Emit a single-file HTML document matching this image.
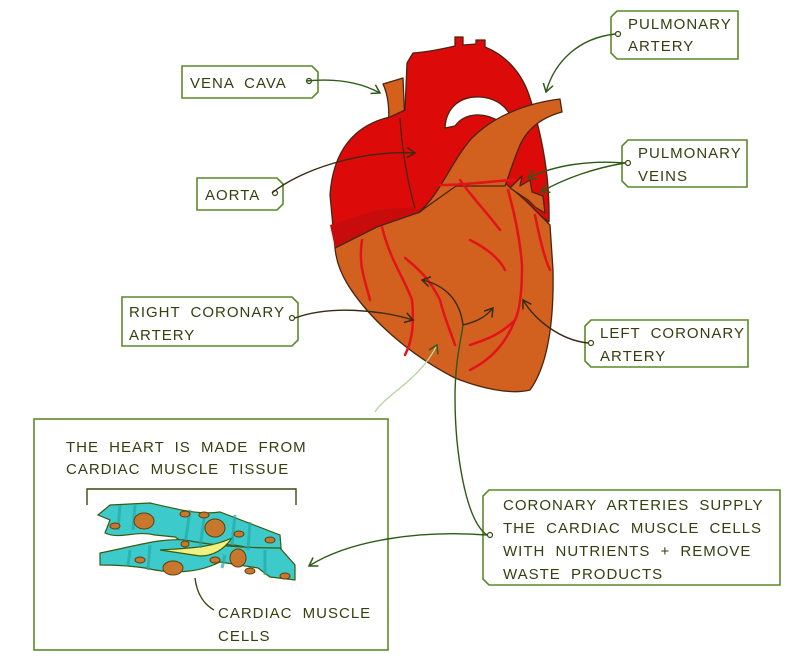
<!DOCTYPE html>
<html><head><meta charset="utf-8"><style>
body{margin:0;background:#fff;width:804px;height:661px;overflow:hidden;}
svg{display:block}
text{font-family:"Liberation Sans",sans-serif;font-size:15px;fill:#334010;letter-spacing:1px;word-spacing:5px}
</style></head><body>
<svg width="804" height="661" viewBox="0 0 804 661" xmlns="http://www.w3.org/2000/svg">
<defs>
<marker id="ah" markerWidth="12" markerHeight="12" refX="9" refY="6" orient="auto" markerUnits="userSpaceOnUse">
<path d="M1,1 L9,6 L1,11" fill="none" stroke="#3a2a10" stroke-width="1.5"/></marker>
<marker id="ag" markerWidth="12" markerHeight="12" refX="9" refY="6" orient="auto" markerUnits="userSpaceOnUse">
<path d="M1,1 L9,6 L1,11" fill="none" stroke="#2e5a18" stroke-width="1.5"/></marker>
</defs>
<g stroke="#4a2410" stroke-width="1.3" stroke-linejoin="round">
<path d="M383,84 L403,78 L405,125 L388,128 C390,110 388,95 383,84 Z" fill="#d4601c"/>
<path d="M335,248 L330,195 C333,150 355,125 390,117 L405,110 L407,63 L413,53 C428,52 442,49 455,46 L455,37 L463,37 L463,45 L476,44 L476,40 L485,40 L485,47 C505,55 522,72 530,98 C542,135 550,175 549,222 L520,200 L460,180 L420,212 L377,227 Z" fill="#dd0a0a"/>
<path d="M335,248 L330,225 L377,210 L415,207 L420,212 L377,227 Z" fill="#c80c0c" stroke="none"/>
<path d="M445,128 C446,106 462,96 480,97 C496,98 506,106 512,118 L500,122 C485,112 465,112 455,126 Z" fill="#fff"/>
<path d="M335,248 L377,227 L420,212 L456,183 L505,183 L525,200 L550,225 L553,270 C554,320 548,365 530,390 C510,395 480,388 455,378 C410,355 370,320 348,285 C340,272 336,260 335,248 Z" fill="#d2601e"/>
<path d="M418,213 C440,195 452,160 472,138 C495,115 528,103 560,99 L562,112 C540,118 525,130 518,150 C512,165 508,178 505,186 L456,186 Z" fill="#d2601e"/>
<path d="M510,188 L522,176 L520,186 L530,180 L532,192 L543,196 L545,213 L535,207 L528,200 Z" fill="#d2601e"/>
<path d="M400,118 C402,150 408,185 415,208" fill="none"/>
</g>
<g stroke="#e2141a" stroke-width="2.5" fill="none" stroke-linecap="round">
<path d="M382,227 C390,260 405,280 412,300 C415,330 410,345 405,355"/>
<path d="M362,240 C358,265 365,280 370,300"/>
<path d="M405,258 C420,270 430,280 440,300 C445,320 450,330 455,345"/>
<path d="M440,185 C470,185 500,180 515,180"/>
<path d="M460,180 C470,195 485,210 500,230"/>
<path d="M508,190 C515,215 520,240 522,265 C522,290 520,310 515,320 C500,335 485,340 470,345"/>
<path d="M515,320 C505,345 490,360 470,370"/>
<path d="M535,215 C540,240 545,260 550,270"/>
<path d="M470,240 C490,250 500,260 505,270"/>
</g>
<g fill="#fff" stroke="#5b8a2a" stroke-width="1.6">
<path d="M617,11 L738,11 L738,59 L617,59 L611,53 L611,17 Z"/>
<path d="M628,140 L747,140 L747,187 L628,187 L622,181 L622,146 Z"/>
<path d="M182,66 L312,66 L318,72 L318,92 L312,98 L182,98 Z"/>
<path d="M197,178 L277,178 L283,184 L283,204 L277,210 L197,210 Z"/>
<path d="M122,297 L292,297 L298,303 L298,340 L292,346 L122,346 Z"/>
<path d="M591,320 L748,320 L748,367 L591,367 L585,361 L585,326 Z"/>
<path d="M489,490 L780,490 L780,585 L489,585 L483,579 L483,496 Z"/>
<rect x="34" y="419" width="354" height="231"/>
</g>
<g fill="#fff" stroke="#3a4812" stroke-width="1.2">
<circle cx="618" cy="34" r="2.5"/><circle cx="628" cy="163" r="2.5"/>
<circle cx="309" cy="81" r="2.5"/><circle cx="275" cy="193" r="2.5"/>
<circle cx="292" cy="318" r="2.5"/><circle cx="591" cy="343" r="2.5"/>
<circle cx="490" cy="535" r="2.5"/>
</g>
<text x="628" y="29">PULMONARY</text><text x="628" y="51">ARTERY</text>
<text x="638" y="158">PULMONARY</text><text x="638" y="181">VEINS</text>
<text x="190" y="88">VENA CAVA</text>
<text x="205" y="200">AORTA</text>
<text x="129" y="317">RIGHT CORONARY</text><text x="129" y="340">ARTERY</text>
<text x="600" y="338">LEFT CORONARY</text><text x="600" y="361">ARTERY</text>
<text x="503" y="510">CORONARY ARTERIES SUPPLY</text>
<text x="503" y="533">THE CARDIAC MUSCLE CELLS</text>
<text x="503" y="556">WITH NUTRIENTS + REMOVE</text>
<text x="503" y="579">WASTE PRODUCTS</text>
<text x="66" y="452">THE HEART IS MADE FROM</text>
<text x="66" y="474">CARDIAC MUSCLE TISSUE</text>
<text x="218" y="618">CARDIAC MUSCLE</text>
<text x="218" y="641">CELLS</text>
<g fill="none" stroke="#2e5a18" stroke-width="1.4">
<path d="M306,81 C335,78 360,82 380,93" marker-end="url(#ag)"/>
<path d="M615,34 C580,38 555,60 546,92" marker-end="url(#ag)"/>
<path d="M625,163 C590,160 555,165 528,178" marker-end="url(#ag)"/>
<path d="M625,163 C595,168 565,178 541,192" marker-end="url(#ag)"/>
<path d="M272,193 C300,170 360,150 415,153" stroke="#3a2a10" marker-end="url(#ah)"/>
<path d="M295,318 C330,305 380,310 413,320" stroke="#3a2a10" marker-end="url(#ah)"/>
<path d="M588,343 C560,340 535,320 523,300" stroke="#3a2a10" marker-end="url(#ah)"/>
<path d="M487,535 C465,520 455,450 455,397 C455,360 462,335 463,325" />
<path d="M463,325 C460,300 445,285 422,280" stroke="#3a2a10" marker-end="url(#ah)"/>
<path d="M463,325 C475,322 485,318 493,308" stroke="#3a2a10" marker-end="url(#ah)"/>
<path d="M487,535 C420,530 350,540 309,566" marker-end="url(#ag)"/>
<path d="M375,412 C385,395 420,380 437,345" stroke="#b8d8a0" marker-end="url(#ag)"/>
<path d="M87,505 L87,489 L296,489 L296,505" stroke="#3a4812"/>
<path d="M195,578 C197,595 205,605 214,610" stroke="#3a4812"/>
</g>
<g stroke="#3a5a10" stroke-width="1.2">
<path d="M110,505 L150,503 C180,510 200,515 220,512 L280,535 L282,560 L260,553 C235,540 215,545 195,550 L175,537 L155,535 C135,530 120,540 105,533 L110,520 L98,515 Z" fill="#3ccaca"/>
<path d="M100,553 C140,545 160,538 185,540 C210,545 240,548 280,548 L295,565 L295,580 L270,577 L258,568 L220,562 C200,572 175,575 145,568 C125,565 110,565 100,565 Z" fill="#3ccaca"/>
<path d="M160,550 C190,548 210,548 232,538 C225,548 215,556 200,556 Z" fill="#f0f080"/>
</g>
<g stroke="#28a8a8" stroke-width="3" opacity="0.7">
<path d="M120,505 L118,530 M135,505 L133,530 M190,510 L185,545 M205,512 L200,548 M235,515 L232,545 M250,522 L248,550 M130,550 L128,565 M150,545 L148,570 M225,555 L222,568 M265,550 L265,575"/>
</g>
<g fill="#c8782c" stroke="#5a4010" stroke-width="1">
<ellipse cx="144" cy="521" rx="10" ry="8"/><ellipse cx="215" cy="528" rx="10" ry="9"/>
<ellipse cx="173" cy="568" rx="10" ry="7"/><ellipse cx="238" cy="558" rx="8" ry="9"/>
<ellipse cx="115" cy="526" rx="5" ry="3"/><ellipse cx="185" cy="514" rx="5" ry="3"/>
<ellipse cx="204" cy="515" rx="5" ry="3"/><ellipse cx="239" cy="534" rx="5" ry="3"/>
<ellipse cx="270" cy="540" rx="5" ry="3"/><ellipse cx="140" cy="560" rx="5" ry="3"/>
<ellipse cx="215" cy="560" rx="5" ry="3"/><ellipse cx="250" cy="571" rx="5" ry="3"/>
<ellipse cx="285" cy="576" rx="5" ry="3"/><ellipse cx="185" cy="544" rx="4" ry="3"/>
</g>
</svg>
</body></html>
